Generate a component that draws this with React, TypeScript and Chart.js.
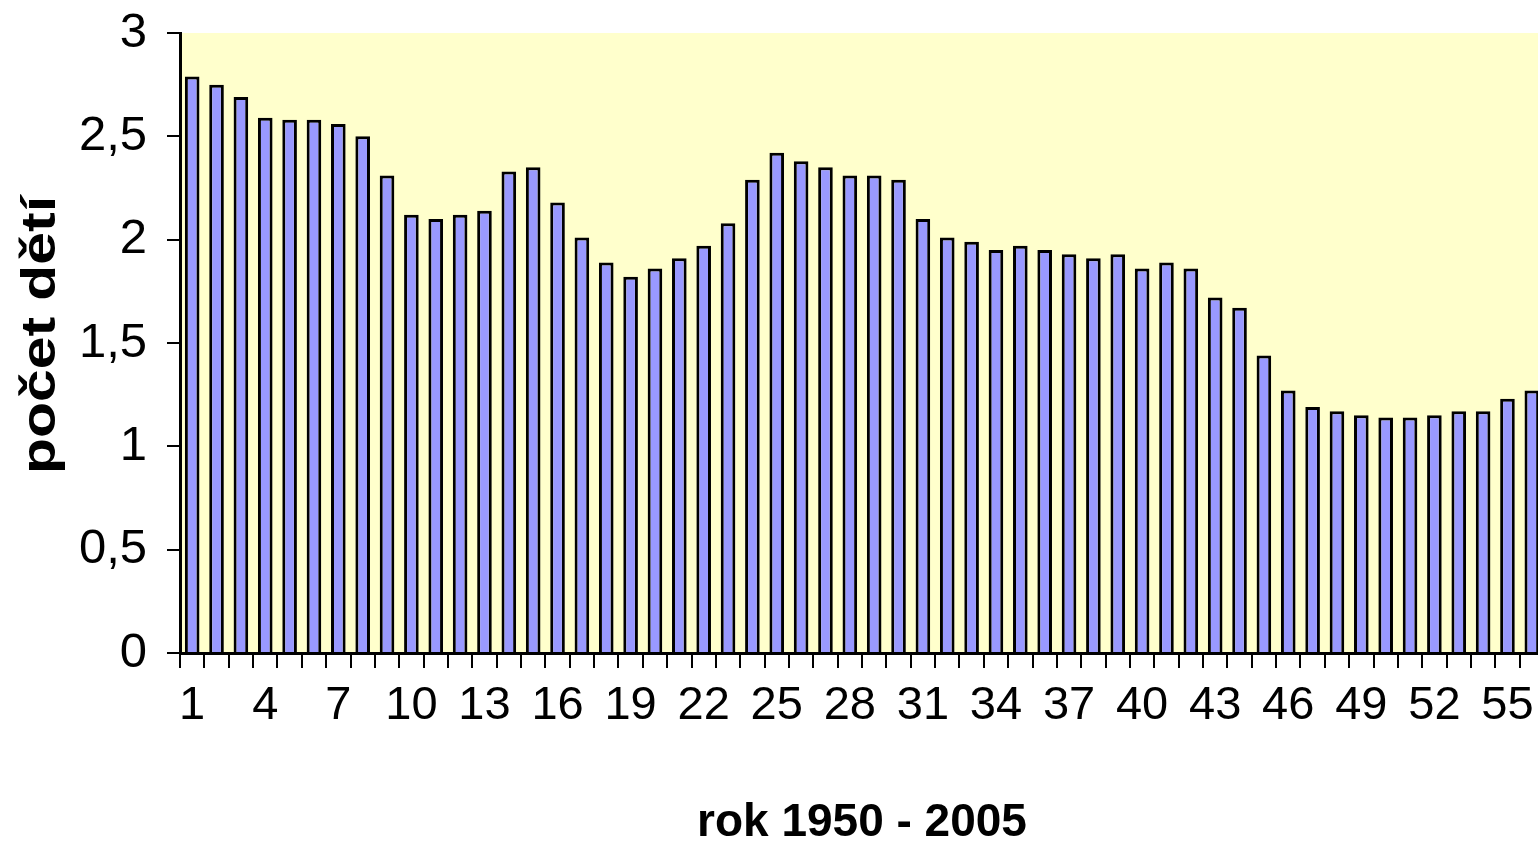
import React, { useEffect, useRef } from "react";
import { Chart, registerables } from "chart.js";

Chart.register(...registerables);

const categories: string[] = [
  "1", "2", "3", "4", "5", "6", "7", "8", "9", "10",
  "11", "12", "13", "14", "15", "16", "17", "18", "19", "20",
  "21", "22", "23", "24", "25", "26", "27", "28", "29", "30",
  "31", "32", "33", "34", "35", "36", "37", "38", "39", "40",
  "41", "42", "43", "44", "45", "46", "47", "48", "49", "50",
  "51", "52", "53", "54", "55", "56",
];

const pocetDeti: number[] = [
  2.79, 2.75, 2.69, 2.59, 2.58, 2.58, 2.56, 2.50, 2.31, 2.12,
  2.10, 2.12, 2.14, 2.33, 2.35, 2.18, 2.01, 1.89, 1.82, 1.86,
  1.91, 1.97, 2.08, 2.29, 2.42, 2.38, 2.35, 2.31, 2.31, 2.29,
  2.10, 2.01, 1.99, 1.95, 1.97, 1.95, 1.93, 1.91, 1.93, 1.86,
  1.89, 1.86, 1.72, 1.67, 1.44, 1.27, 1.19, 1.17, 1.15, 1.14,
  1.14, 1.15, 1.17, 1.17, 1.23, 1.27,
];

const yTicks: number[] = [0, 0.5, 1, 1.5, 2, 2.5, 3];

const xTitle = "rok 1950 - 2005";
const yTitle = "počet dětí";

const FONT = "'Liberation Sans', Arial, sans-serif";

const plotBackground = {
  id: "plotBackground",
  beforeDraw(chart: any) {
    const { ctx, chartArea } = chart;
    if (!chartArea) return;
    ctx.save();
    ctx.fillStyle = "#FFFFCC";
    ctx.fillRect(
      chartArea.left,
      chartArea.top,
      chartArea.right - chartArea.left,
      chartArea.bottom - chartArea.top
    );
    ctx.restore();
  },
};

// y-axis title, drawn slightly stretched along its length like the reference
const yAxisTitle = {
  id: "yAxisTitle",
  afterDraw(chart: any) {
    const { ctx, chartArea } = chart;
    if (!chartArea) return;
    ctx.save();
    ctx.translate(42, (chartArea.top + chartArea.bottom) / 2 - 8);
    ctx.rotate(-Math.PI / 2);
    ctx.scale(1.28, 1.05);
    ctx.font = `bold 46px ${FONT}`;
    ctx.fillStyle = "#000000";
    ctx.textAlign = "center";
    ctx.textBaseline = "middle";
    ctx.fillText(yTitle, 0, 0);
    ctx.restore();
  },
};

export default function App() {
  const canvasRef = useRef<HTMLCanvasElement | null>(null);

  useEffect(() => {
    if (!canvasRef.current) return;
    const chart = new Chart(canvasRef.current, {
      type: "bar",
      data: {
        labels: categories,
        datasets: [
          {
            data: pocetDeti,
            backgroundColor: "#9999FF",
            borderColor: "#000000",
            borderWidth: 3,
            categoryPercentage: 1,
            barPercentage: 0.6,
          },
        ],
      },
      plugins: [plotBackground, yAxisTitle],
      options: {
        animation: false,
        responsive: true,
        maintainAspectRatio: false,
        layout: { padding: { top: 33, right: 0, left: 0, bottom: 0 } },
        plugins: {
          legend: { display: false },
          tooltip: { enabled: false },
        },
        scales: {
          x: {
            offset: true,
            grid: {
              display: true,
              offset: true,
              drawOnChartArea: false,
              drawTicks: true,
              tickLength: 15,
              color: "#000000",
              lineWidth: 2,
            },
            border: { display: true, color: "#000000", width: 3 },
            ticks: {
              autoSkip: false,
              maxRotation: 0,
              minRotation: 0,
              padding: 15,
              color: "#000000",
              font: { family: FONT, size: 47, lineHeight: 1 },
              callback: (_v: any, i: number) => (i % 3 === 0 ? categories[i] : ""),
            },
            title: {
              display: true,
              text: xTitle,
              color: "#000000",
              font: { family: FONT, size: 46, weight: "bold", lineHeight: 1 },
              padding: 0,
            },
            afterFit: (scale: any) => {
              scale.height = 846 - 653;
              scale.paddingLeft = 0;
              scale.paddingRight = 0;
            },
          },
          y: {
            min: 0,
            max: 3,
            afterBuildTicks: (scale: any) => {
              scale.ticks = yTicks.map((v) => ({ value: v }));
            },
            grid: {
              display: true,
              drawOnChartArea: false,
              drawTicks: true,
              tickLength: 13,
              color: "#000000",
              lineWidth: 2,
            },
            border: { display: true, color: "#000000", width: 3 },
            ticks: {
              padding: 20,
              color: "#000000",
              font: { family: FONT, size: 49, lineHeight: 1 },
              callback: (v: any) => String(v).replace(".", ","),
            },
            title: { display: false },
            afterFit: (scale: any) => {
              scale.width = 180;
              scale.paddingTop = 0;
              scale.paddingBottom = 0;
            },
          },
        },
      },
    });
    return () => chart.destroy();
  }, []);

  return (
    <div
      style={{
        position: "fixed",
        left: 0,
        top: 0,
        width: "1544px",
        height: "846px",
        background: "#ffffff",
      }}
    >
      <canvas ref={canvasRef} />
    </div>
  );
}
